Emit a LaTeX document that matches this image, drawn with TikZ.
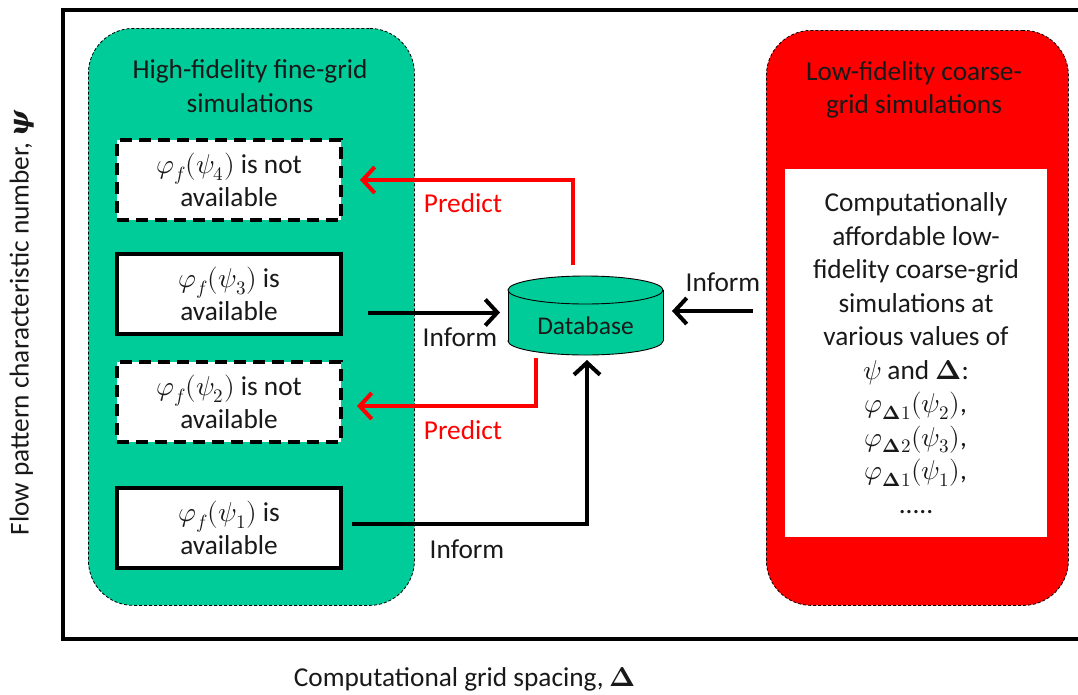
\documentclass[tikz,border=0pt]{standalone}
\usepackage{fontspec}
\usepackage{unicode-math}
\setmainfont{Carlito}
\setmathfont{Latin Modern Math}
\newfontfamily\psifont{DejaVu Serif}
\usetikzlibrary{arrows.meta,calc}
\definecolor{hgreen}{RGB}{0,204,153}
\definecolor{lred}{RGB}{255,0,0}
\begin{document}
\begin{tikzpicture}[x=1pt,y=-1pt,
  txt/.style={font=\fontsize{27.3}{33.5}\selectfont, align=center, inner sep=0pt, text=black!90},
  group/.style={draw=black, densely dashed, line width=0.8pt, rounded corners=45pt, anchor=north west},
  solidbox/.style={draw=black, line width=4pt, fill=white, minimum width=224pt, minimum height=80pt, txt},
  dashbox/.style={solidbox, dash pattern=on 12pt off 7pt},
  arr/.style={line width=4pt, -{Straight Barb[length=12pt,width=26pt]}},
  rarr/.style={arr, draw=lred},
  lbl/.style={txt},
  rlbl/.style={txt, text=lred},
]
\useasboundingbox (0,0) rectangle (1078,694);
% outer frame
\draw[line width=4pt] (1078,10) -- (63,10) -- (63,639) -- (1078,639);

% groups
\node[group, fill=hgreen, minimum width=326pt, minimum height=577pt] (hf) at (88,28) {};
\node[group, fill=lred, minimum width=302pt, minimum height=575pt] (lf) at (766,30) {};

\node[txt] (hft) at (250,86) {High-fidelity fine-grid\\simulations};
\node[txt] (lft) at (914,90) {Low-fidelity coarse-\\grid simulations};

% white box in red group
\node[fill=white, minimum width=262pt, minimum height=368pt, anchor=north west, inner sep=0pt] (lw) at (785,169) {};
\node[txt] (lwt) at (916,353) {Computationally\\affordable low-\\fidelity coarse-grid\\simulations at\\various values of\\$\psi$ and $\symbf{\Delta}$:\\$\varphi_{\symbf{\Delta}1}(\psi_2)$,\\$\varphi_{\symbf{\Delta}2}(\psi_3)$,\\$\varphi_{\symbf{\Delta}1}(\psi_1)$,\\.....};

% fine-grid boxes
\node[dashbox] (b4) at (229,180) {$\varphi_f(\psi_4)$ is not\\available};
\node[solidbox] (b3) at (229,294) {$\varphi_f(\psi_3)$ is\\available};
\node[dashbox] (b2) at (229,402) {$\varphi_f(\psi_2)$ is not\\available};
\node[solidbox] (b1) at (229,528) {$\varphi_f(\psi_1)$ is\\available};

% database
\node[minimum width=155pt, minimum height=79pt, inner sep=0pt, outer sep=0pt] (db) at (585.5,315.5) {};
\fill[hgreen, draw=black, line width=0.9pt] (585.5,341) ellipse [x radius=77.5pt, y radius=14pt];
\fill[hgreen] (508,290) rectangle (663,341);
\draw[line width=0.9pt] (508,290) -- (508,341) (663,290) -- (663,341);
\fill[hgreen, draw=black, line width=0.9pt] (585.5,290) ellipse [x radius=77.5pt, y radius=14pt];
\node[txt, font=\fontsize{25.5}{30}\selectfont] (dbt) at (585.5,326) {Database};

% arrows
\draw[rarr] ([xshift=-12.5pt, yshift=11pt]db.north) |- ([xshift=17pt]b4.east);
\draw[rarr] ([xshift=-49.5pt, yshift=-3pt]db.south) |- ([xshift=14pt, yshift=-4pt]b2.east);
\draw[arr] ($(b3.east |- db.west)+(25,-3)$) -- ([xshift=-8pt, yshift=3pt]db.west);
\draw[arr] ($(lf.west |- db.east)+(-13,-4.5)$) -- ([xshift=9pt, yshift=4.5pt]db.east);
\draw[arr] ([xshift=9pt, yshift=4.5pt]b1.east) -| ([xshift=1.5pt, yshift=-5pt]db.south);

% labels
\node[rlbl] (p1) at (463,203) {Predict};
\node[rlbl] (p2) at (463,430) {Predict};
\node[lbl] (i1) at (460,337) {Inform};
\node[lbl] (i2) at (467,549) {Inform};
\node[lbl] (i3) at (723,282) {Inform};

% axis labels
\node[txt, rotate=90] (ylab) at (22,323) {Flow pattern characteristic number, {\psifont\bfseries\itshape ψ}};
\node[txt] (xlab) at (465,679) {Computational grid spacing, $\symbf{\Delta}$};
\end{tikzpicture}
\end{document}
